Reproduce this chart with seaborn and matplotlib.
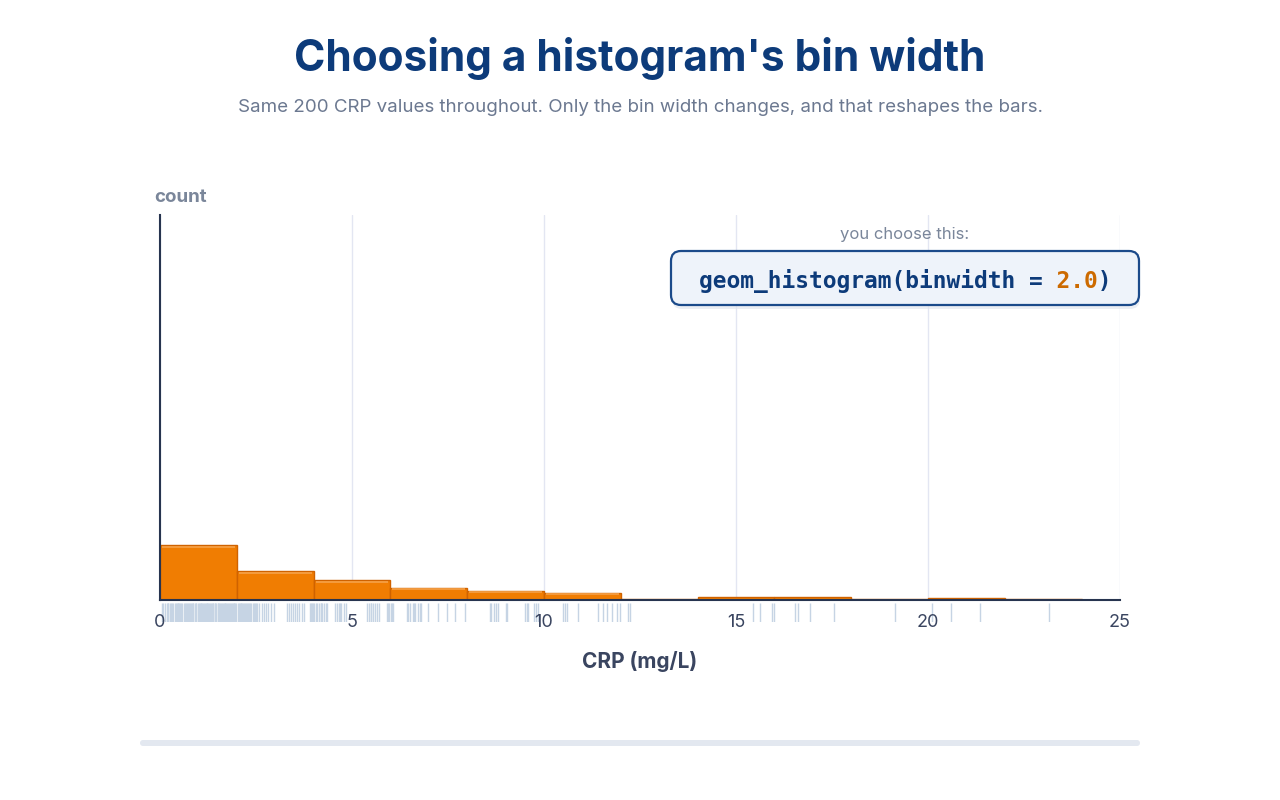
import seaborn as sns
import matplotlib.pyplot as plt
from matplotlib.patches import FancyBboxPatch
from matplotlib.transforms import IdentityTransform

# -------------------------------
# Data: 200 CRP values (mg/L)
# -------------------------------
crp_0_2 = [0.06, 0.09, 0.13, 0.17, 0.2, 0.22, 0.26, 0.29, 0.31, 0.35, 0.38,
           0.41, 0.44, 0.46, 0.5, 0.53, 0.55, 0.58, 0.62, 0.64, 0.67, 0.7,
           0.73, 0.75, 0.79, 0.81, 0.84, 0.87, 0.9, 0.93, 0.95, 0.98, 1.01,
           1.03, 1.06, 1.09, 1.12, 1.14, 1.17, 1.2, 1.23, 1.25, 1.28, 1.31,
           1.33, 1.36, 1.39, 1.42, 1.44, 1.47, 1.5, 1.53, 1.55, 1.58, 1.61,
           1.63, 1.66, 1.69, 1.72, 1.74, 1.77, 1.8, 1.83, 1.85, 1.88, 1.91,
           1.93, 1.96, 1.99, 0.48, 0.85, 1.07, 1.22, 1.37, 1.52, 1.7, 1.94]
crp_2_4 = [2.02, 2.05, 2.08, 2.1, 2.13, 2.16, 2.19, 2.21, 2.24, 2.27,
           2.3, 2.32, 2.35, 2.38, 2.41, 2.44, 2.47, 2.5, 2.53, 2.57,
           2.66, 2.7, 2.75, 2.82, 2.89, 2.96, 3.31, 3.36, 3.42, 3.47,
           3.52, 3.58, 3.63, 3.69, 3.74, 3.9, 3.93, 3.96, 3.98, 2.12]
crp_4_6 = [4.02, 4.06, 4.1, 4.14, 4.18, 4.22, 4.27, 4.31, 4.35, 4.55,
           4.6, 4.66, 4.72, 4.78, 4.85, 5.38, 5.43, 5.49, 5.55, 5.61,
           5.66, 5.71, 5.9, 5.94, 5.97, 4.2, 4.7, 5.5]
crp_6_12 = [6.02, 6.08, 6.42, 6.5, 6.58, 6.65, 6.72, 6.8, 6.97, 7.23,
            7.47, 7.68, 7.94, 6.05, 6.46, 6.62, 6.76,
            8.59, 8.63, 8.7, 8.76, 8.8, 9.0, 9.03, 9.5, 9.55, 9.59,
            9.75, 9.8, 9.85,
            10.5, 10.59, 10.89, 11.41, 11.54, 11.63, 11.76, 11.89, 11.98, 10.55]
crp_tail = [12.2, 12.25, 15.43, 15.63, 15.94, 15.98, 16.54, 16.62, 16.94,
            17.54, 19.15, 20.1, 20.6, 21.35, 23.15]
crp_values = crp_0_2 + crp_2_4 + crp_4_6 + crp_6_12 + crp_tail

bin_width = 2.0
x_ticks = [0, 5, 10, 15, 20, 25]

title = "Choosing a histogram's bin width"
subtitle = ("Same 200 CRP values throughout. Only the bin width changes, "
            "and that reshapes the bars.")

NAVY = "#0d3b7a"
AXIS = "#27344f"
GREY = "#7a869a"

# -------------------------------
# Figure setup
# -------------------------------
sns.set_style("white")
plt.rcParams["font.family"] = ["Inter", "DejaVu Sans"]

fig = plt.figure(figsize=(12.8, 8), dpi=100)
ax = fig.add_axes([160 / 1280, 200 / 800, 960 / 1280, 385 / 800])
ax_rug = fig.add_axes([160 / 1280, 178 / 800, 960 / 1280, 19 / 800])

# -------------------------------
# Histogram + rug
# -------------------------------
sns.histplot(x=crp_values, binwidth=bin_width, binrange=(0, 24), ax=ax,
             color="#f07d02", edgecolor="#cf6200", linewidth=1, alpha=1)
sns.rugplot(x=crp_values, ax=ax_rug, height=1, color="#c6d4e4",
            linewidth=1, expand_margins=False)

# light strip just under each bar top
for bar in ax.patches:
    h = bar.get_height()
    if h > 6:
        ax.plot([bar.get_x() + 0.05, bar.get_x() + bar.get_width() - 0.05],
                [h - 2.2, h - 2.2], color="#f6a24a", lw=1.2,
                solid_capstyle="butt", zorder=3)

ax.set_xlim(0, 25)
ax.set_ylim(0, 540)
ax.set_xticks(x_ticks)
ax.set_yticks([])
ax.set_ylabel("")
ax.set_xlabel("")
ax.grid(axis="x", color="#e3e6f2", linewidth=1)
ax.set_axisbelow(True)
ax.patch.set_alpha(0)
for side in ["top", "right"]:
    ax.spines[side].set_visible(False)
for side in ["left", "bottom"]:
    ax.spines[side].set_color(AXIS)
    ax.spines[side].set_linewidth(1.5)
ax.tick_params(axis="x", length=5, width=1.5, color=AXIS, labelsize=13,
               labelcolor="#3a4560", pad=5)
ax.set_zorder(2)

ax_rug.set_xlim(0, 25)
ax_rug.set_ylim(0, 1)
ax_rug.axis("off")
ax_rug.set_zorder(1)

# -------------------------------
# Text
# -------------------------------
fig.text(0.5, 1 - 58 / 800, title, ha="center", va="center",
         fontsize=30.5, fontweight="bold", color=NAVY)
fig.text(0.5, 1 - 108 / 800, subtitle, ha="center", va="center",
         fontsize=13.5, color="#6b7890")
fig.text(154 / 1280, 1 - 197 / 800, "count", ha="left", va="center",
         fontsize=13.5, fontweight="bold", color=GREY)
fig.text(0.5, 1 - 662 / 800, "CRP (mg/L)", ha="center", va="center",
         fontsize=15, fontweight="bold", color="#3a4560")

# annotation box (pixel coordinates)
px = IdentityTransform()
fig.text(905, 800 - 234, "you choose this:", transform=px, ha="center",
         va="center", fontsize=12, color=GREY)
shadow = FancyBboxPatch((671 + 1, 495 - 4), 468, 54,
                        boxstyle="round,pad=0,rounding_size=10",
                        transform=px, facecolor="#dfe4ec", edgecolor="none",
                        alpha=0.6, zorder=5)
box = FancyBboxPatch((671, 495), 468, 54,
                     boxstyle="round,pad=0,rounding_size=10",
                     transform=px, facecolor="#eef3fa", edgecolor="#1b4a8a",
                     linewidth=1.6, zorder=6)
fig.patches.extend([shadow, box])

code_main = "geom_histogram(binwidth =    )"
code_value = " " * 26 + f"{bin_width:.1f}" + " "
mono = ["DejaVu Sans Mono"]
fig.text(905, 800 - 281, code_main, transform=px, ha="center", va="center",
         fontsize=16.5, fontweight="bold", family=mono, color=NAVY, zorder=7)
fig.text(905, 800 - 281, code_value, transform=px, ha="center", va="center",
         fontsize=16.5, fontweight="bold", family=mono, color="#cc6a00",
         zorder=7)

# bottom track
track = FancyBboxPatch((140, 800 - 746), 1000, 6,
                       boxstyle="round,pad=0,rounding_size=3",
                       transform=px, facecolor="#e3e8f0", edgecolor="none")
fig.patches.append(track)

fig.savefig("out.png", dpi=100)
